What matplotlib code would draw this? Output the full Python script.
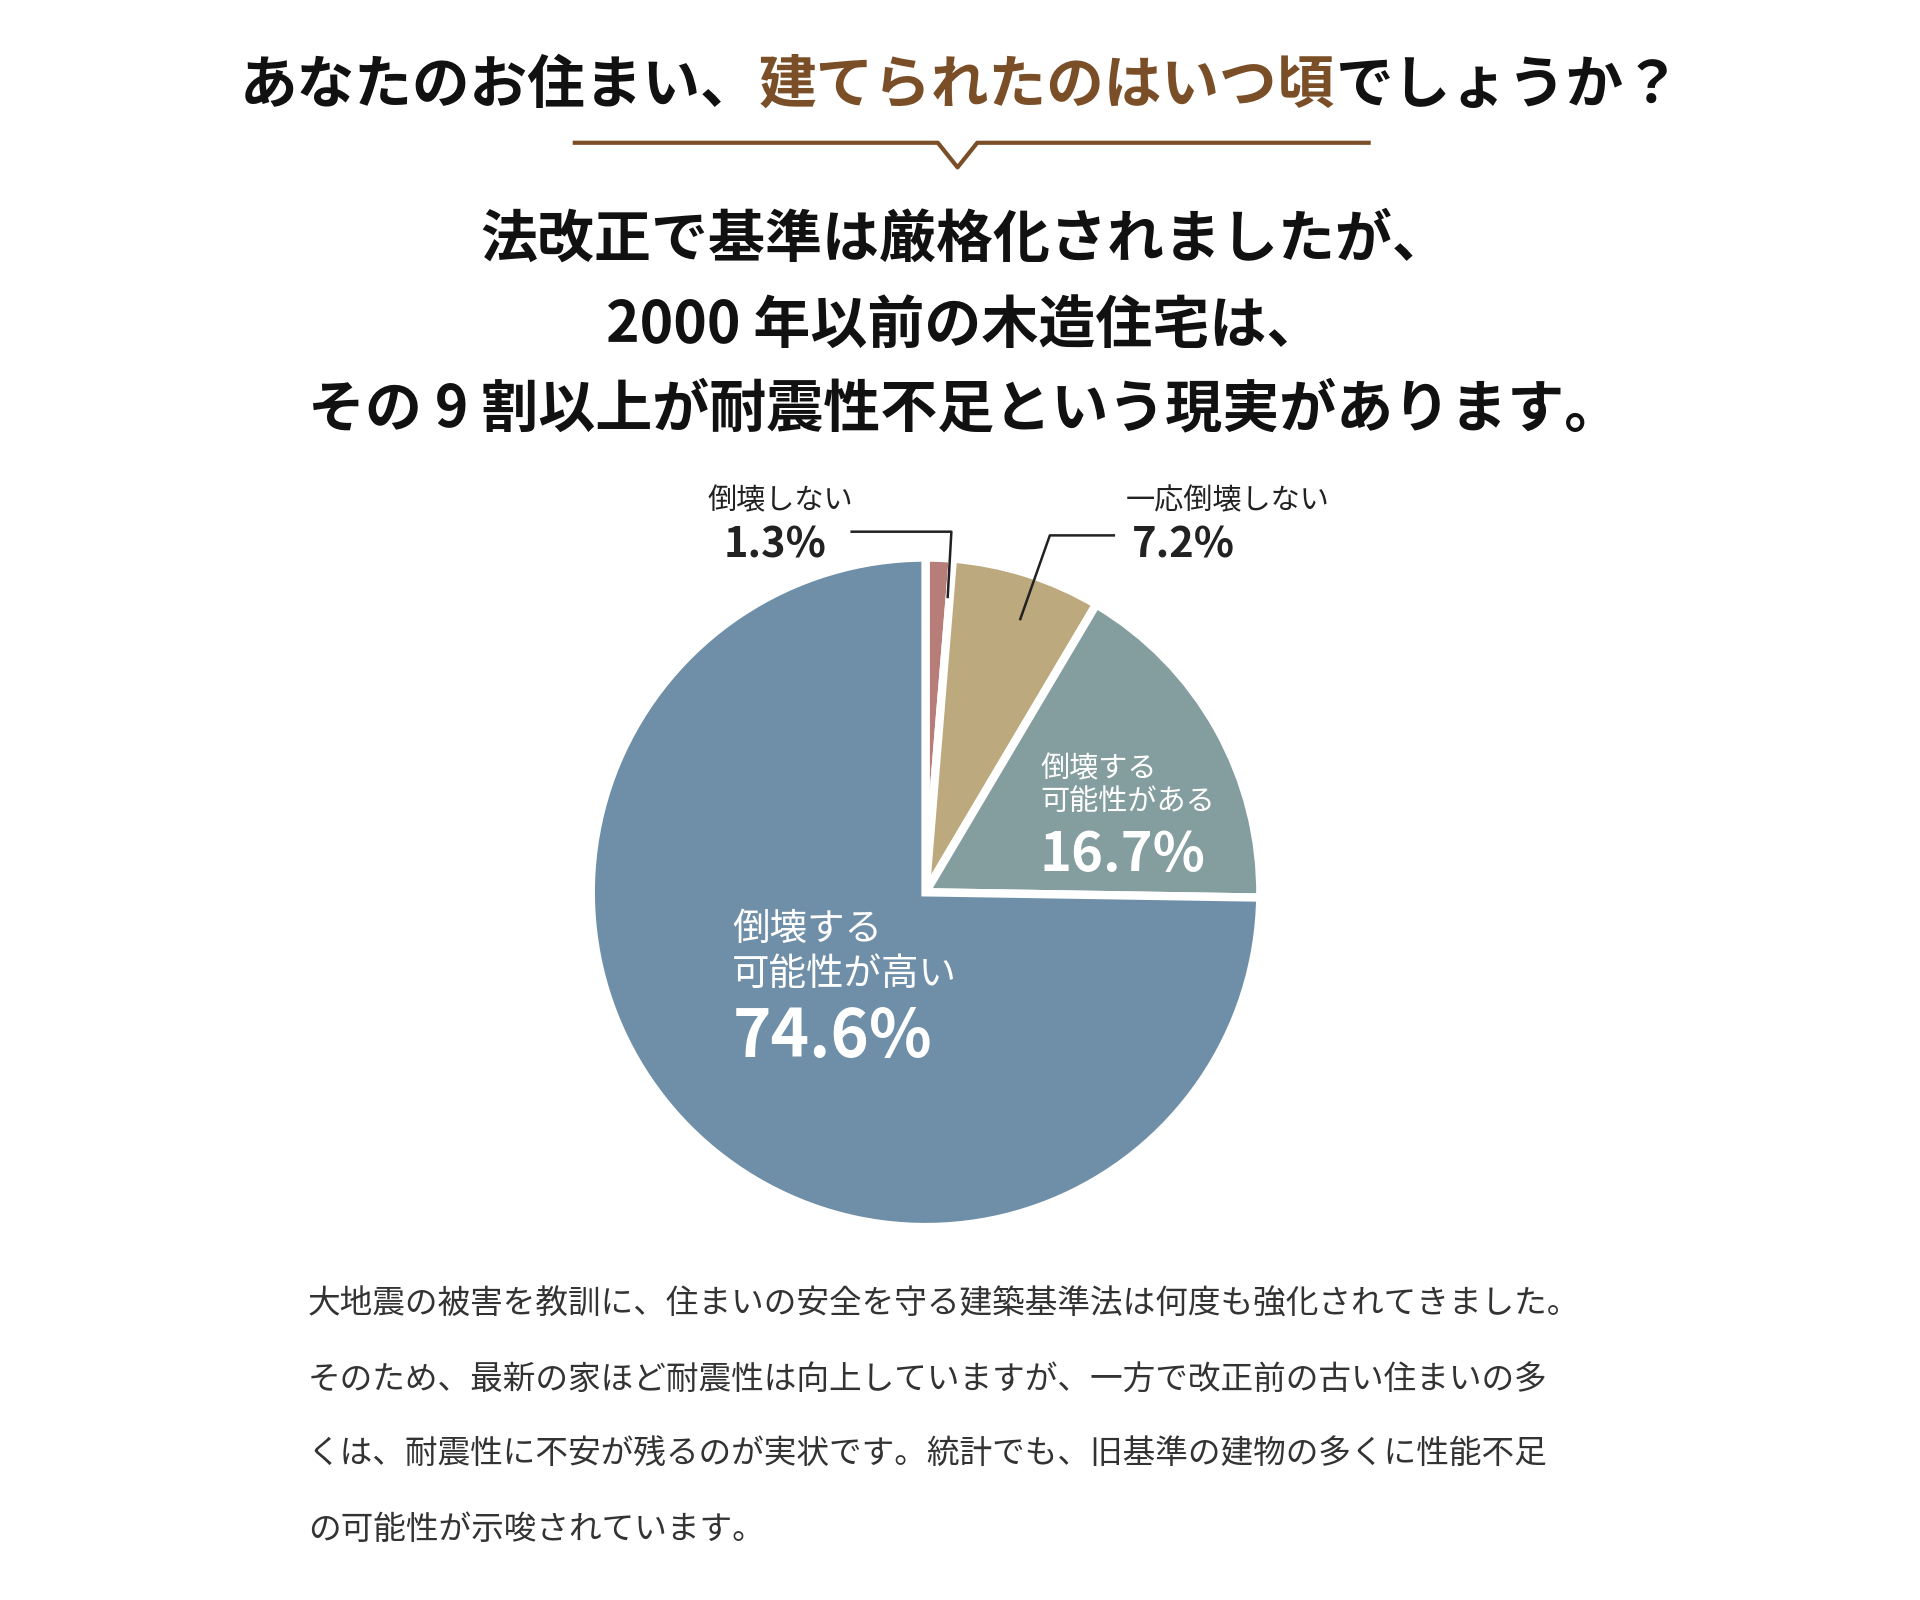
import matplotlib
matplotlib.use("Agg")
import matplotlib.pyplot as plt
from matplotlib.lines import Line2D

plt.rcParams['font.family'] = ['Noto Sans CJK JP', 'DejaVu Sans']

labels = ['倒壊しない', '一応倒壊しない', '倒壊する\n可能性がある', '倒壊する\n可能性が高い']
values = [1.3, 7.2, 16.7, 74.6]
colors = ['#b77d79', '#bca97d', '#849d9e', '#6f8fa8']

W, H = 1560, 1300
def fx(x): return x / W
def fy(y): return 1 - y / H

fig = plt.figure(figsize=(19.2, 16), dpi=100)
brown = '#7a4e27'

parts = [('あなたのお住まい、', '#111111'), ('建てられたのはいつ頃', brown), ('でしょうか？', '#111111')]
fig.canvas.draw()
r = fig.canvas.get_renderer()
texts, widths = [], []
for s, c in parts:
    t = fig.text(0, fy(70), s, color=c, fontsize=41.5, fontweight='bold', va='center', ha='left')
    widths.append(t.get_window_extent(r).width)
    texts.append(t)
total = sum(widths)
x0 = fx(780) * 1920 - total / 2
for t, w in zip(texts, widths):
    t.set_x(x0 / 1920)
    x0 += w

xs = [fx(467), fx(762), fx(778), fx(794), fx(1112)]
ys = [fy(116), fy(116), fy(136), fy(116), fy(116)]
fig.add_artist(Line2D(xs, ys, color=brown, lw=3, transform=fig.transFigure))

for y, s in [(195, '法改正で基準は厳格化されましたが、'), (265, '2000 年以前の木造住宅は、'),
             (333, 'その 9 割以上が耐震性不足という現実があります。')]:
    fig.text(fx(784), fy(y), s, fontsize=41, fontweight='bold', ha='center', va='center', color='#111111')

R = 272
ax = fig.add_axes([fx(752 - R), fy(725 + R), 2 * R / W, 2 * R / H])
ax.pie(values, colors=colors, startangle=90, counterclock=False,
       wedgeprops=dict(edgecolor='white', linewidth=6))
ax.set_aspect('auto')
ax.set_xlim(-1, 1); ax.set_ylim(-1, 1)
ax.axis('off')

fig.text(fx(575), fy(407), labels[0], fontsize=21, va='center', color='#222222')
fig.text(fx(588), fy(443), f'{values[0]}%', fontsize=30, fontweight='bold', va='center', color='#222222')
fig.add_artist(Line2D([fx(692), fx(773), fx(770)], [fy(432), fy(432), fy(485)], color='#222222', lw=1.8, transform=fig.transFigure))
fig.text(fx(915), fy(407), labels[1], fontsize=21, va='center', color='#222222')
fig.text(fx(920), fy(443), f'{values[1]}%', fontsize=30, fontweight='bold', va='center', color='#222222')
fig.add_artist(Line2D([fx(905), fx(853), fx(829)], [fy(435), fy(435), fy(503)], color='#222222', lw=1.8, transform=fig.transFigure))

for i, (x, y1, y2, y3, fs1, fs2) in enumerate([(845, 625, 652, 695, 21, 39), (595, 755, 792, 843, 27, 47)]):
    l1, l2 = labels[2 + i].split('\n')
    fig.text(fx(x), fy(y1), l1, fontsize=fs1, color='white', va='center')
    fig.text(fx(x), fy(y2), l2, fontsize=fs1, color='white', va='center')
    fig.text(fx(x), fy(y3), f'{values[2 + i]}%', fontsize=fs2, fontweight='bold', color='white', va='center')

body = ['大地震の被害を教訓に、住まいの安全を守る建築基準法は何度も強化されてきました。',
        'そのため、最新の家ほど耐震性は向上していますが、一方で改正前の古い住まいの多',
        'くは、耐震性に不安が残るのが実状です。統計でも、旧基準の建物の多くに性能不足',
        'の可能性が示唆されています。']
for y, s in zip([1060, 1122, 1182, 1243], body):
    fig.text(fx(250), fy(y), s, fontsize=23.5, color='#333333', va='center')

fig.savefig('out.png', dpi=100, facecolor='white')
